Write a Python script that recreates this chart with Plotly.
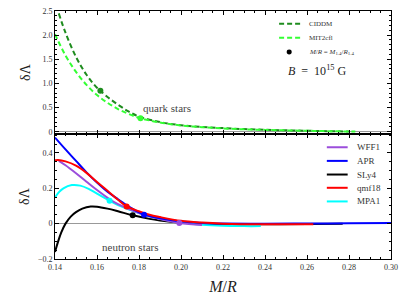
import plotly.graph_objects as go

# ---------------- data ----------------
# quark stars (top panel)
ciddm_x = [0.1418, 0.145, 0.15, 0.155, 0.16, 0.1616, 0.165, 0.17, 0.175, 0.18, 0.19, 0.20,
           0.21, 0.22, 0.23, 0.24, 0.25, 0.26, 0.27, 0.28]
ciddm_y = [2.45, 2.05, 1.55, 1.18, 0.91, 0.85, 0.72, 0.56, 0.42, 0.315, 0.20, 0.135,
           0.10, 0.075, 0.055, 0.04, 0.03, 0.02, 0.012, 0.005]
mit_x = [0.14, 0.145, 0.15, 0.155, 0.16, 0.165, 0.17, 0.175, 0.1807, 0.19, 0.20, 0.21,
         0.22, 0.23, 0.24, 0.25, 0.26, 0.27, 0.283]
mit_y = [2.02, 1.58, 1.24, 0.97, 0.76, 0.60, 0.47, 0.37, 0.28, 0.19, 0.13, 0.095,
         0.07, 0.05, 0.038, 0.028, 0.02, 0.012, 0.004]
quark_names = ["CIDDM", "MIT2cfl"]
quark_colors = ["#1e8c1e", "#33ff33"]
quark_dot_x = [0.1616, 0.1807]
quark_dot_y = [0.85, 0.28]

# neutron stars (bottom panel)
wff1_x = [0.1418, 0.145, 0.15, 0.155, 0.16, 0.1664, 0.17, 0.18, 0.19, 0.1992, 0.21]
wff1_y = [0.355, 0.33, 0.285, 0.237, 0.19, 0.135, 0.11, 0.06, 0.026, 0.004, -0.008]
apr_x = [0.14, 0.145, 0.15, 0.155, 0.16, 0.165, 0.17, 0.175, 0.18, 0.1824, 0.19, 0.20,
         0.21, 0.22, 0.24, 0.26, 0.28, 0.30]
apr_y = [0.487, 0.42, 0.355, 0.29, 0.232, 0.18, 0.138, 0.098, 0.064, 0.051, 0.03, 0.012,
         0.004, 0.001, 0.0, 0.001, 0.002, 0.003]
sly4_x = [0.14, 0.1415, 0.143, 0.145, 0.1475, 0.15, 0.153, 0.157, 0.16, 0.165, 0.17, 0.177,
          0.185, 0.19, 0.20, 0.21, 0.22, 0.24, 0.26, 0.277]
sly4_y = [-0.16, -0.10, -0.05, 0.0, 0.04, 0.065, 0.085, 0.097, 0.096, 0.085, 0.07, 0.047,
          0.027, 0.018, 0.006, 0.0, -0.003, -0.004, -0.002, -0.001]
qmf18_x = [0.14, 0.1415, 0.145, 0.15, 0.155, 0.16, 0.165, 0.17, 0.1741, 0.18, 0.185, 0.19,
           0.20, 0.21, 0.22, 0.24, 0.263]
qmf18_y = [0.358, 0.36, 0.352, 0.328, 0.287, 0.235, 0.186, 0.135, 0.097, 0.07, 0.05, 0.037,
           0.016, 0.006, 0.0, -0.004, -0.003]
mpa1_x = [0.14, 0.142, 0.144, 0.148, 0.152, 0.156, 0.16, 0.166, 0.17, 0.18, 0.19, 0.20,
          0.21, 0.22, 0.23, 0.238]
mpa1_y = [0.148, 0.18, 0.20, 0.218, 0.215, 0.197, 0.17, 0.129, 0.105, 0.06, 0.027, 0.006,
          -0.006, -0.012, -0.014, -0.014]
neutron_names = ["WFF1", "APR", "SLy4", "qmf18", "MPA1"]
neutron_colors = ["#9b4ddb", "#0000ff", "#000000", "#ff0000", "#00ffff"]
neutron_dot_x = [0.1992, 0.1824, 0.177, 0.1741, 0.166]
neutron_dot_y = [0.004, 0.051, 0.047, 0.097, 0.129]

x_ticks = [0.14, 0.16, 0.18, 0.20, 0.22, 0.24, 0.26, 0.28, 0.30]
top_y_ticks = [0, 0.5, 1.0, 1.5, 2.0, 2.5]
top_y_text = ["0", "0.5", "1.0", "1.5", "2.0", "2.5"]
bot_y_ticks = [-0.2, 0, 0.2, 0.4]
bot_y_text = ["\u22120.2", "0", "0.2", "0.4"]

FONT = "Liberation Serif, Times New Roman, serif"

fig = go.Figure()

quark_series = [(ciddm_x, ciddm_y), (mit_x, mit_y)]
for (xs, ys), name, col in zip(quark_series, quark_names, quark_colors):
    fig.add_trace(go.Scatter(x=xs, y=ys, mode="lines", name=name, line_shape="spline",
                             line=dict(color=col, width=2, dash="5px,3px"),
                             xaxis="x", yaxis="y", showlegend=False))
for xd, yd, col in zip(quark_dot_x, quark_dot_y, quark_colors):
    fig.add_trace(go.Scatter(x=[xd], y=[yd], mode="markers", marker=dict(color=col, size=6),
                             xaxis="x", yaxis="y", showlegend=False))

neutron_series = [(wff1_x, wff1_y), (apr_x, apr_y), (sly4_x, sly4_y), (qmf18_x, qmf18_y),
                  (mpa1_x, mpa1_y)]
order = [2, 4, 0, 1, 3]
for i in order:
    xs, ys = neutron_series[i]
    fig.add_trace(go.Scatter(x=xs, y=ys, mode="lines", name=neutron_names[i], line_shape="spline",
                             line=dict(color=neutron_colors[i], width=2),
                             xaxis="x2", yaxis="y2", showlegend=False))
for xd, yd, col in zip(neutron_dot_x, neutron_dot_y, neutron_colors):
    fig.add_trace(go.Scatter(x=[xd], y=[yd], mode="markers", marker=dict(color=col, size=6),
                             xaxis="x2", yaxis="y2", showlegend=False))

split = 0.504
axis_common = dict(showline=True, linecolor="black", linewidth=1, mirror="allticks",
                   ticks="inside", ticklen=4, tickcolor="black", showgrid=False,
                   tickfont=dict(family=FONT, size=8, color="#333"))

fig.update_layout(
    width=407, height=305,
    margin=dict(l=54.5, r=16, t=10.5, b=45.5, autoexpand=False),
    paper_bgcolor="white", plot_bgcolor="white",
    font=dict(family=FONT, color="#222"),
    xaxis=dict(domain=[0, 1], range=[0.14, 0.30], anchor="y", showticklabels=False,
               tickvals=x_ticks, zeroline=False,
               minor=dict(dtick=0.005, tick0=0.14, ticks="inside", ticklen=2, tickcolor="black"),
               **axis_common),
    yaxis=dict(domain=[split, 1], range=[-0.047, 2.5], anchor="x",
               tickvals=top_y_ticks, ticktext=top_y_text,
               zeroline=True, zerolinecolor="#999999", zerolinewidth=1,
               minor=dict(dtick=0.1, tick0=0, ticks="inside", ticklen=2, tickcolor="black"),
               title=dict(text="\u03b4\u039b", font=dict(family=FONT, size=14, color="#222"), standoff=8),
               **axis_common),
    xaxis2=dict(domain=[0, 1], range=[0.14, 0.30], anchor="y2",
                tickvals=x_ticks, ticktext=[f"{v:.2f}" for v in x_ticks], zeroline=False,
                minor=dict(dtick=0.005, tick0=0.14, ticks="inside", ticklen=2, tickcolor="black"),
                title=dict(text="<i>M</i>/<i>R</i>", font=dict(family=FONT, size=16, color="#222"), standoff=10),
                **axis_common),
    yaxis2=dict(domain=[0, split], range=[-0.2, 0.507], anchor="x2",
                tickvals=bot_y_ticks, ticktext=bot_y_text,
                zeroline=True, zerolinecolor="#999999", zerolinewidth=1,
                minor=dict(dtick=0.05, tick0=0, ticks="inside", ticklen=2, tickcolor="black"),
                title=dict(text="\u03b4\u039b", font=dict(family=FONT, size=14, color="#222"), standoff=4),
                **axis_common),
)

# region labels
fig.add_annotation(x=0.1935, y=0.495, xref="x", yref="y", text="quark stars", showarrow=False,
                   xanchor="center", yanchor="middle", font=dict(family=FONT, size=11, color="#444"))
fig.add_annotation(x=0.1759, y=-0.131, xref="x2", yref="y2", text="neutron stars", showarrow=False,
                   xanchor="center", yanchor="middle", font=dict(family=FONT, size=11, color="#444"))

# legend (top panel)
top_leg_y = [0.9486, 0.8924]
for name, col, yy in zip(quark_names, quark_colors, top_leg_y):
    fig.add_shape(type="line", xref="paper", yref="paper", x0=0.667, x1=0.730, y0=yy, y1=yy,
                  line=dict(color=col, width=2, dash="5px,3px"))
    fig.add_annotation(x=0.750, y=yy, xref="paper", yref="paper", text=name, showarrow=False,
                       xanchor="left", yanchor="middle", font=dict(family=FONT, size=7, color="#333"))
fig.add_shape(type="circle", xref="paper", yref="paper", x0=0.6895, x1=0.7045,
              y0=0.8245, y1=0.8445, fillcolor="black", line=dict(color="black", width=0))
fig.add_annotation(x=0.750, y=0.8345, xref="paper", yref="paper",
                   text="<i>M</i>/<i>R</i> = <i>M</i><sub>1.4</sub>/<i>R</i><sub>1.4</sub>",
                   showarrow=False, xanchor="left", yanchor="middle",
                   font=dict(family=FONT, size=7, color="#333"))
fig.add_annotation(x=0.688, y=0.761, xref="paper", yref="paper",
                   text="<i>B</i>  =  10<sup>15</sup> G", showarrow=False, xanchor="left",
                   yanchor="middle", font=dict(family=FONT, size=12, color="#222"))

# legend (bottom panel)
bot_leg_y = [0.4506, 0.3956, 0.3406, 0.2871, 0.2321]
for name, col, yy in zip(neutron_names, neutron_colors, bot_leg_y):
    fig.add_shape(type="line", xref="paper", yref="paper", x0=0.809, x1=0.871, y0=yy, y1=yy,
                  line=dict(color=col, width=2))
    fig.add_annotation(x=0.893, y=yy, xref="paper", yref="paper", text=name, showarrow=False,
                       xanchor="left", yanchor="middle", font=dict(family=FONT, size=9, color="#333"))

# remove the default 8px page margin so the figure fills the window exactly
fig.write_html("out.html", config={"displayModeBar": False},
               post_script="document.body.style.margin='0px';")
